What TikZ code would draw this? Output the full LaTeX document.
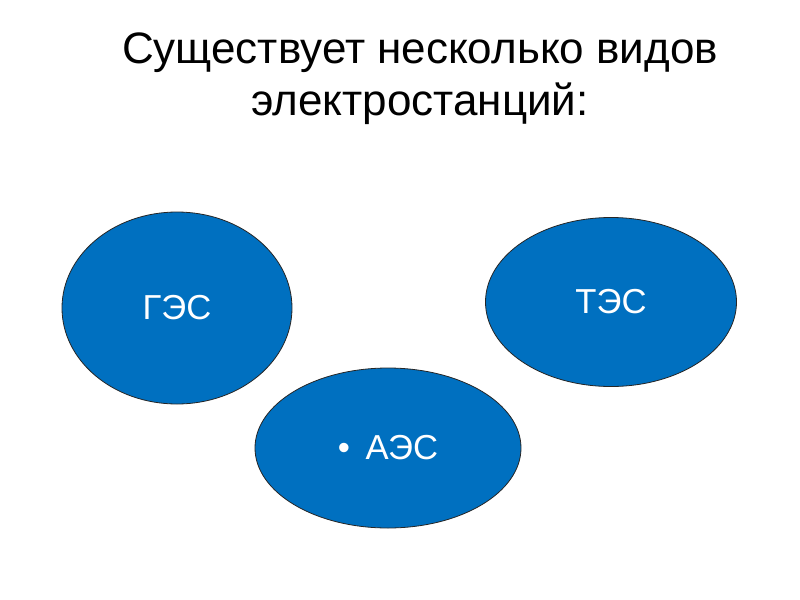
\documentclass[tikz,border=0pt]{standalone}
\usepackage{fontspec}
\setmainfont{Liberation Sans}
\usetikzlibrary{shapes.geometric}
\definecolor{plantblue}{HTML}{0070C0}
\tikzset{
  plant/.style={ellipse, draw=black!85, line width=0.6pt, fill=plantblue, inner sep=0pt,
    text=white, font=\fontsize{26}{30}\selectfont},
  titletext/.style={align=center, font=\fontsize{33}{39}\selectfont, text=black, inner sep=0pt}
}
\begin{document}
\begin{tikzpicture}[x=0.75pt, y=-0.75pt]
\useasboundingbox[fill=white] (0,0) rectangle (800,600);
\node[titletext] (title) at (420,78.5) {Существует несколько видов\\электростанций:};
\node[plant, minimum width=230*0.75pt, minimum height=192*0.75pt] (ges) at (177,308) {ГЭС};
\node[plant, minimum width=251*0.75pt, minimum height=169*0.75pt] (tes) at (611,302) {ТЭС};
\node[plant, minimum width=266*0.75pt, minimum height=160*0.75pt] (aes) at (388,448) {•\hspace{0.45em}АЭС};
\end{tikzpicture}
\end{document}
